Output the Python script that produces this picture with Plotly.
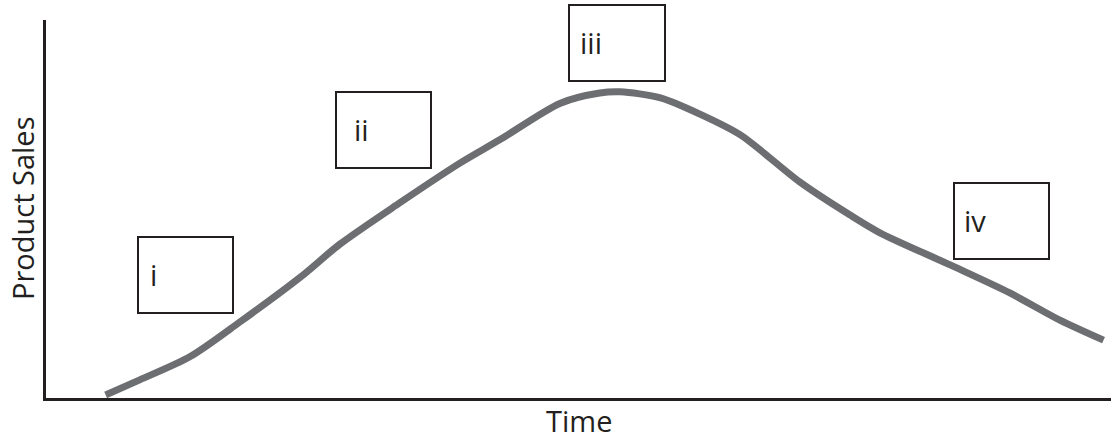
import plotly.graph_objects as go

# curve (arbitrary units, 0-100 on both axes)
time = [5.6, 8.8, 13.5, 18.2, 23.9, 27.6, 33.2, 38.9, 42.6, 48.3, 52.0,
        53.9, 57.7, 61.4, 65.2, 70.8, 75.5, 78.3, 84.9, 90.5, 95.2, 99.3]
sales = [0.8, 4.8, 10.9, 20.1, 32.0, 40.7, 51.6, 62.2, 68.3, 78.0, 80.7,
         81.0, 79.4, 75.1, 69.6, 57.1, 48.4, 43.7, 35.2, 27.8, 20.6, 15.3]

stage_labels = ["i", "ii", "iii", "iv"]

# label boxes in page pixels: (left, top, right, bottom), text x offset
boxes = [(138, 237, 233, 313, 10), (336, 92, 431, 168, 16),
         (569, 5, 665, 81, 9), (954, 183, 1049, 259, 8)]

W, H = 1111, 441
L, R, T, B = 46, 0, 20, 43
pw, ph = W - L - R, H - T - B

def px(x):
    return (x - L) / pw

def py(y):
    return (H - B - y) / ph

ink = "#231f20"
font = "Open Sans"
fsize = 29

fig = go.Figure()
fig.add_trace(go.Scatter(
    x=time, y=sales, mode="lines",
    line=dict(color="#6d6e71", width=7, shape="spline", smoothing=0.8),
    cliponaxis=False, hoverinfo="skip", showlegend=False
))

for (x0, y0, x1, y1, dx), lab in zip(boxes, stage_labels):
    fig.add_shape(type="rect", xref="paper", yref="paper",
                  x0=px(x0), x1=px(x1), y0=py(y1), y1=py(y0),
                  line=dict(color=ink, width=2), fillcolor="rgba(0,0,0,0)")
    fig.add_annotation(xref="paper", yref="paper", x=px(x0 + dx), y=py((y0 + y1) / 2 - 1),
                       text=lab, showarrow=False, xanchor="left", yanchor="middle",
                       font=dict(family=font, size=fsize, color=ink))

# axis titles as annotations so the plot area stays where it is
fig.add_annotation(xref="paper", yref="paper", x=0.5, y=py(420),
                   text="Time", showarrow=False, xanchor="center", yanchor="middle",
                   font=dict(family=font, size=fsize, color=ink))
fig.add_annotation(xref="paper", yref="paper", x=px(22), y=0.5, textangle=-90,
                   text="Product Sales", showarrow=False, xanchor="center", yanchor="middle",
                   font=dict(family=font, size=fsize, color=ink))

fig.update_layout(
    width=W, height=H,
    margin=dict(l=L, r=R, t=T, b=B, autoexpand=False),
    paper_bgcolor="white", plot_bgcolor="white",
    xaxis=dict(range=[0, 100], showgrid=False, zeroline=False, showticklabels=False,
               ticks="", showline=True, linecolor=ink, linewidth=3, automargin=False),
    yaxis=dict(range=[0, 100], showgrid=False, zeroline=False, showticklabels=False,
               ticks="", showline=True, linecolor=ink, linewidth=3, automargin=False),
)

# drop the browser's default body margin so the figure sits at the page corner
fig.write_html("out.html", config={"displayModeBar": False},
               post_script="document.body.style.margin='0';document.body.style.overflow='hidden';")
